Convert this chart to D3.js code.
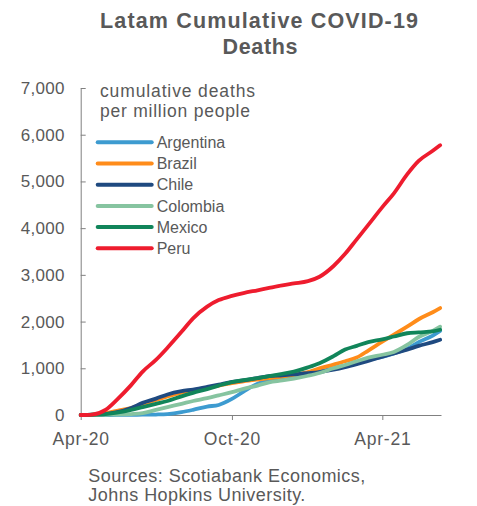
<!DOCTYPE html>
<html>
<head>
<meta charset="utf-8">
<script src="https://cdn.jsdelivr.net/npm/d3@7"></script>
<style>
  html, body { margin: 0; padding: 0; background: #ffffff; }
  svg { display: block; font-family: Arial, "Liberation Sans", sans-serif; }
</style>
</head>
<body>
<svg id="chart" width="477" height="506"></svg>
<script>
// ---- Data (deaths per million) ----
const dates = ["2020-04-01","2020-04-15","2020-05-01","2020-05-15","2020-06-01","2020-06-15",
  "2020-07-01","2020-07-15","2020-08-01","2020-08-15","2020-09-01","2020-09-15",
  "2020-10-01","2020-10-15","2020-11-01","2020-11-15","2020-12-01","2020-12-15",
  "2021-01-01","2021-01-15","2021-02-01","2021-02-15","2021-03-01","2021-03-15",
  "2021-04-01","2021-04-15","2021-05-01","2021-05-15","2021-06-01","2021-06-10"];

const argentina = [0,0,0,2,4,6,10,20,60,110,180,215,345,500,670,730,800,840,900,940,1000,1060,1120,1180,1245,1320,1420,1560,1700,1800];
const brazil    = [0,10,40,90,150,230,320,400,480,530,580,630,680,720,760,790,820,860,920,1000,1080,1150,1230,1380,1570,1720,1890,2050,2200,2290];
const chile     = [0,5,20,60,150,260,350,440,510,545,600,650,710,740,790,830,850,870,895,920,970,1025,1090,1160,1250,1320,1400,1480,1560,1610];
const colombia  = [0,0,5,10,20,40,110,170,240,300,360,420,490,560,630,700,740,780,840,900,1000,1070,1150,1230,1290,1350,1500,1670,1800,1890];
const mexico    = [0,5,20,50,110,170,240,300,400,475,555,630,705,745,790,830,880,930,1020,1110,1260,1400,1480,1560,1620,1680,1750,1770,1790,1825];
const peru      = [0,10,110,330,640,930,1180,1440,1780,2070,2320,2460,2550,2610,2670,2720,2775,2815,2865,2960,3190,3450,3760,4070,4450,4745,5150,5440,5655,5775];

const seriesNames  = ["Argentina","Brazil","Chile","Colombia","Mexico","Peru"];
const seriesValues = [argentina, brazil, chile, colombia, mexico, peru];
const seriesColors = ["#3d9bd0","#ff8c1a","#1f4a80","#86c4a0","#11855a","#ee1c2e"];

const yTicks = [0,1000,2000,3000,4000,5000,6000,7000];
const xTickDates = ["2020-04-01","2020-10-01","2021-04-01"];

// ---- Layout ----
const textColor = "#595959";
const axisColor = "#808080";
const plotLeft = 80.7, plotRight = 441, plotTop = 88, plotBottom = 415;

const svg = d3.select("#chart");
const parse = d3.utcParse("%Y-%m-%d");

const x = d3.scaleUtc()
  .domain([parse("2020-04-01"), parse("2021-06-11")])
  .range([plotLeft, plotRight]);
const y = d3.scaleLinear().domain([0, 7000]).range([plotBottom, plotTop]);

// Title
const title = svg.append("g").attr("fill", textColor).attr("font-weight", "bold")
  .attr("font-size", 21.5).attr("text-anchor", "middle");
title.append("text").attr("x", 259).attr("y", 28)
  .attr("textLength", 318).attr("lengthAdjust", "spacing")
  .text("Latam Cumulative  COVID-19");
title.append("text").attr("x", 260).attr("y", 54)
  .attr("textLength", 75).attr("lengthAdjust", "spacing")
  .text("Deaths");

// Y axis
const yAxis = d3.axisLeft(y).tickValues(yTicks)
  .tickFormat(d3.format(","))
  .tickSizeInner(-5).tickSizeOuter(0).tickPadding(16);
const gy = svg.append("g").attr("transform", `translate(${plotLeft},0)`).call(yAxis);
gy.select(".domain").attr("stroke", axisColor);
gy.selectAll(".tick line").attr("stroke", axisColor);
gy.selectAll(".tick text").attr("fill", textColor).attr("font-size", 17)
  .attr("letter-spacing", "0.3px")
  .attr("font-family", "Arial, 'Liberation Sans', sans-serif");

// X axis
const xAxis = d3.axisBottom(x).tickValues(xTickDates.map(parse))
  .tickFormat(d3.utcFormat("%b-%y"))
  .tickSizeInner(5).tickSizeOuter(0).tickPadding(13);
const gx = svg.append("g").attr("transform", `translate(0,${plotBottom})`).call(xAxis);
gx.select(".domain").attr("stroke", axisColor);
gx.selectAll(".tick line").attr("stroke", axisColor);
gx.selectAll(".tick text").attr("fill", textColor).attr("font-size", 17.5)
  .attr("letter-spacing", "0.8px")
  .attr("font-family", "Arial, 'Liberation Sans', sans-serif");

// Lines
const line = d3.line()
  .x(d => x(d.date))
  .y(d => y(d.value))
  .curve(d3.curveMonotoneX);

seriesNames.forEach((name, i) => {
  const pts = dates.map((dt, j) => ({date: parse(dt), value: seriesValues[i][j]}));
  svg.append("path")
    .datum(pts)
    .attr("fill", "none")
    .attr("stroke", seriesColors[i])
    .attr("stroke-width", 3.8)
    .attr("stroke-linecap", "round")
    .attr("stroke-linejoin", "round")
    .attr("d", line);
});

// Annotation
const ann = svg.append("g").attr("fill", textColor).attr("font-size", 17.5);
ann.append("text").attr("x", 100).attr("y", 97)
  .attr("textLength", 155).attr("lengthAdjust", "spacing").text("cumulative deaths");
ann.append("text").attr("x", 100).attr("y", 117)
  .attr("textLength", 150).attr("lengthAdjust", "spacing").text("per million people");

// Legend
const lg = svg.append("g");
seriesNames.forEach((name, i) => {
  const ly = 142.3 + i * 21.2;
  lg.append("line").attr("x1", 97.7).attr("x2", 151.7).attr("y1", ly).attr("y2", ly)
    .attr("stroke", seriesColors[i]).attr("stroke-width", 4).attr("stroke-linecap", "round");
  lg.append("text").attr("x", 156.7).attr("y", ly).attr("dy", "0.36em")
    .attr("fill", textColor).attr("font-size", 16).text(name);
});

// Sources
const src = svg.append("g").attr("fill", textColor).attr("font-size", 18);
src.append("text").attr("x", 88.3).attr("y", 482)
  .attr("textLength", 277).attr("lengthAdjust", "spacing").text("Sources: Scotiabank Economics,");
src.append("text").attr("x", 88.3).attr("y", 501)
  .attr("textLength", 217).attr("lengthAdjust", "spacing").text("Johns Hopkins University.");
</script>
</body>
</html>
